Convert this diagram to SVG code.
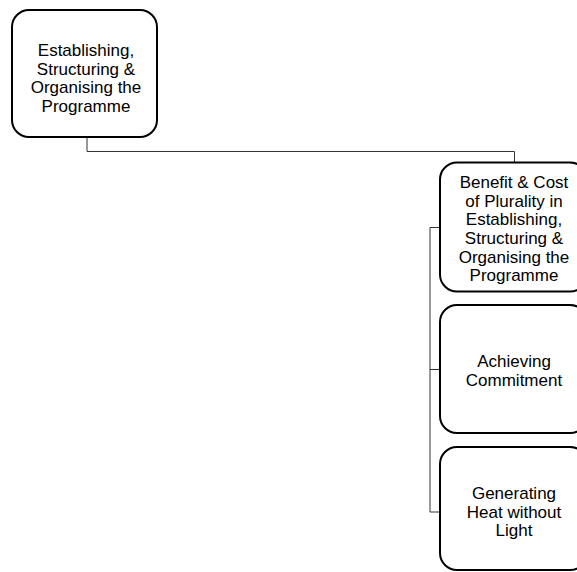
<svg xmlns="http://www.w3.org/2000/svg" width="577" height="572" viewBox="0 0 577 572">
<style>
.box{fill:#fff;stroke:#000;stroke-width:2}
.con{fill:none;stroke:#333;stroke-width:1}
text{font-family:"Liberation Sans",Arial,sans-serif;font-size:17px;fill:#000;text-anchor:middle}
</style>
<rect width="577" height="572" fill="#fff"/>
<g id="connectors">
<polyline class="con" points="87,137 87,151.5 514.5,151.5 514.5,162"/>
<polyline class="con" points="440,227.5 430,227.5 430,512 440,512"/>
<line class="con" x1="430" y1="369.5" x2="440" y2="369.5"/>
</g>
<g id="n0">
<rect class="box" x="12" y="10" width="145" height="127" rx="17"/>
<text x="86" y="56">Establishing,</text>
<text x="86" y="74.5">Structuring &amp;</text>
<text x="86" y="93">Organising the</text>
<text x="86" y="111.5">Programme</text>
</g>
<g id="n1">
<rect class="box" x="440" y="162.5" width="147" height="129" rx="17"/>
<text x="514" y="188">Benefit &amp; Cost</text>
<text x="514" y="206.7">of Plurality in</text>
<text x="514" y="225.4">Establishing,</text>
<text x="514" y="244">Structuring &amp;</text>
<text x="514" y="262.7">Organising the</text>
<text x="514" y="281.4">Programme</text>
</g>
<g id="n2">
<rect class="box" x="440" y="305" width="147" height="128" rx="17"/>
<text x="514" y="367">Achieving</text>
<text x="514" y="385.5">Commitment</text>
</g>
<g id="n3">
<rect class="box" x="440" y="447" width="147" height="123" rx="17"/>
<text x="514" y="499.3">Generating</text>
<text x="514" y="517.8">Heat without</text>
<text x="514" y="536.3">Light</text>
</g>
</svg>
